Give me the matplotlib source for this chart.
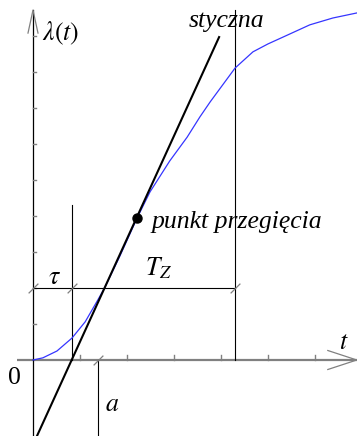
import numpy as np
import matplotlib
matplotlib.use("Agg")
import matplotlib.pyplot as plt

plt.rcParams['mathtext.fontset'] = 'stix'

# response curve lambda(t), read in axis units (1 unit = one tick)
t_vals = [0, 0.21, 0.51, 0.83, 1.11, 1.38, 1.53, 1.85, 2.21, 2.49,
          2.91, 3.28, 3.55, 3.77, 4.30, 4.68, 5.0, 5.32, 5.89, 6.38, 6.89]
lam_vals = [0, 0.06, 0.25, 0.61, 1.06, 1.67, 2.02, 2.89, 3.93, 4.67,
            5.53, 6.19, 6.75, 7.17, 8.11, 8.56, 8.78, 8.97, 9.31, 9.50, 9.64]

# tangent through the inflection point
tangent_t = [0.085, 3.96]
tangent_lam = [-2.11, 8.97]
inflection = (2.21, 3.95)

tau = 0.83        # delay
t_end = 4.30      # tau + Tz
a_val = 1.38
level = 2.0       # horizontal dimension line

x_ticks = [1, 2, 3, 4, 5, 6]
y_ticks = [1, 2, 3, 4, 5, 6, 7, 8, 9]

x_min, x_max = -0.34, 6.89
y_min, y_max = -2.11, 9.72

fig = plt.figure(figsize=(3.57, 4.36), dpi=100)
ax = fig.add_axes([0, 0, 1, 1])
ax.set_xlim(-0.702, 6.894)
ax.set_ylim(-2.111, 10.0)
ax.axis('off')

gray = '#808080'
px_x = 1 / 47.0   # data units per pixel
px_y = 1 / 36.0

# axes
ax.plot([x_min, x_max], [0, 0], color=gray, lw=1.6, solid_capstyle='butt')
ax.plot([0, 0], [y_min, y_max], color='black', lw=0.9)
# open arrow heads
ax.plot([-5 * px_x, 0, 5 * px_x], [y_max - 23 * px_y, y_max, y_max - 23 * px_y],
        color=gray, lw=0.9)
ax.plot([x_max - 29 * px_x, x_max, x_max - 29 * px_x], [9.5 * px_y, 0, -9.5 * px_y],
        color=gray, lw=0.9)

# ticks
for xt in x_ticks:
    ax.plot([xt, xt], [0, 5 * px_y], color=gray, lw=1.0)
for yt in y_ticks:
    ax.plot([0, 3 * px_x], [yt, yt], color=gray, lw=1.0)

# construction lines
ax.plot([tau, tau], [0, 4.3], color='black', lw=0.8)
ax.plot([t_end, t_end], [0, y_max], color='black', lw=0.8)
ax.plot([a_val, a_val], [y_min, 0], color='black', lw=0.8)
ax.plot([0, t_end], [level, level], color='black', lw=0.8)

# slash marks on dimension lines
slash = [(-1, -1), (1, 1)]
ax.plot([0, tau, t_end], [level] * 3, ls='none', marker=slash, ms=7,
        mec=gray, mew=0.9)
ax.plot([a_val], [0], ls='none', marker=slash, ms=7, mec=gray, mew=0.9)

# curve, tangent, inflection point
ax.plot(t_vals, lam_vals, color='#3535ff', lw=0.9)
ax.plot(tangent_t, tangent_lam, color='black', lw=1.5)
ax.plot(*inflection, marker='o', color='black', ms=6.5)

fs = 18.5
serif_it = dict(family='Liberation Serif', style='italic', fontsize=fs)
ax.text(0.19, 9.06, r'$\lambda(t)$', fontsize=fs, va='center', ha='left')
ax.text(4.11, 9.42, 'styczna', ha='center', va='center', **serif_it)
ax.text(2.53, 3.83, 'punkt przegięcia', ha='left', va='center', **serif_it)
ax.text(0.45, 2.31, r'$\tau$', fontsize=fs, ha='center', va='center')
ax.text(2.38, 2.55, r'$T_Z$', fontsize=fs, ha='left', va='center')
ax.text(-0.40, -0.5, '0', family='Liberation Serif', fontsize=fs,
        ha='center', va='center')
ax.text(1.68, -1.22, r'$a$', fontsize=fs, ha='center', va='center')
ax.text(6.62, 0.5, r'$t$', fontsize=fs, ha='center', va='center')

fig.savefig('out.png', dpi=100)
